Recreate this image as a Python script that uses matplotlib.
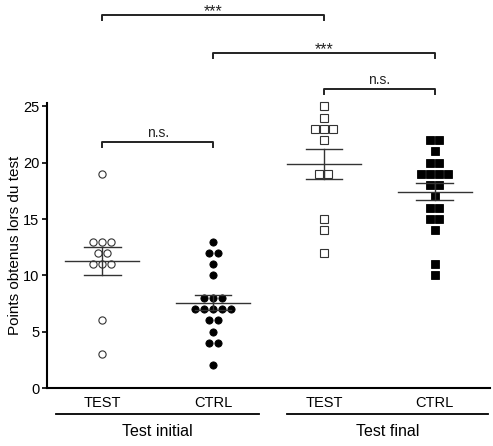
import numpy as np
import matplotlib.pyplot as plt
from matplotlib.transforms import blended_transform_factory

plt.rcParams['font.family'] = ['Liberation Sans', 'DejaVu Sans']

# scores
test_initial = [19, 13, 13, 13, 12, 12, 11, 11, 11, 6, 3]
ctrl_initial = [13, 12, 12, 11, 10, 8, 8, 8, 7, 7, 7, 7, 7, 6, 6, 5, 4, 4, 2]
test_final = [25, 24, 23, 23, 23, 22, 19, 19, 15, 14, 12]
ctrl_final = [22, 22, 21, 20, 20, 19, 19, 19, 19, 18, 18, 17, 16, 16,
              15, 15, 14, 11, 10]

groups = [test_initial, ctrl_initial, test_final, ctrl_final]
tick_labels = ['TEST', 'CTRL', 'TEST', 'CTRL']
group_names = ['Test initial', 'Test final']
markers = ['o', 'o', 's', 's']
filled = [False, True, False, True]

# significance: (group a, group b, label)
comparisons = [(1, 3, '***'), (2, 4, '***'), (3, 4, 'n.s.'), (1, 2, 'n.s.')]
bracket_y = [33.07, 29.7, 26.5, 21.8]


def swarm_offsets(values, dx=0.081):
    # spread equal values side by side
    vals = np.array(values)
    offs = np.zeros(len(vals))
    for v in np.unique(vals):
        idx = np.where(vals == v)[0]
        n = len(idx)
        offs[idx] = (np.arange(n) - (n - 1) / 2) * dx
    return offs


fig = plt.figure(figsize=(4.93, 4.46), dpi=100)
ax = fig.add_axes([47 / 493, 58 / 446, 443 / 493, 285 / 446])

for i, vals in enumerate(groups):
    pos = i + 1
    xs = pos + swarm_offsets(vals)
    if markers[i] == 'o':
        ms = 5.2
    else:
        ms = 5.6
    if filled[i]:
        ax.plot(xs, vals, markers[i], ms=ms, mfc='black', mec='black',
                mew=0.6, ls='none', zorder=3, clip_on=False)
    else:
        ax.plot(xs, vals, markers[i], ms=ms, mfc='white', mec='#333333',
                mew=0.8, ls='none', zorder=3, clip_on=False)
    m = np.mean(vals)
    sem = np.std(vals, ddof=1) / np.sqrt(len(vals))
    ax.plot([pos - 0.335, pos + 0.335], [m, m], color='#333333', lw=1.0,
            zorder=4)
    ax.plot([pos - 0.165, pos + 0.165], [m + sem, m + sem], color='#333333',
            lw=1.0, zorder=4)
    ax.plot([pos - 0.165, pos + 0.165], [m - sem, m - sem], color='#333333',
            lw=1.0, zorder=4)
    ax.plot([pos, pos], [m - sem, m + sem], color='#333333', lw=1.0,
            zorder=4)

# brackets
for (a, b, lab), y in zip(comparisons, bracket_y):
    ax.plot([a, a, b, b], [y - 0.38, y, y, y - 0.38], color='#222222',
            lw=1.4, clip_on=False)
    if lab == '***':
        ax.text((a + b) / 2, y - 0.3, lab, ha='center', va='bottom',
                fontsize=11.5, color='#222222', clip_on=False)
    else:
        ax.text((a + b) / 2, y + 0.2, lab, ha='center', va='bottom',
                fontsize=10, color='#222222', clip_on=False)

ax.set_xlim(0.5, 4.5)
ax.set_ylim(0, 25.3)
ax.set_yticks([0, 5, 10, 15, 20, 25])
ax.set_xticks([1, 2, 3, 4])
ax.set_xticklabels(tick_labels, fontsize=10.5)
ax.tick_params(axis='x', length=0, pad=6)
ax.tick_params(axis='y', length=3.5, width=1.2, labelsize=10.5, pad=2)
ax.spines['top'].set_visible(False)
ax.spines['right'].set_visible(False)
ax.spines['left'].set_linewidth(1.5)
ax.spines['bottom'].set_linewidth(1.5)
ax.set_ylabel('Points obtenus lors du test', fontsize=11, labelpad=1)

# group lines under the tick labels
trans = blended_transform_factory(ax.transData, ax.transAxes)
for (x0, x1), name in zip([(0.584, 2.41), (2.666, 4.48)], group_names):
    ax.plot([x0, x1], [-0.091, -0.091], color='black', lw=1.3,
            transform=trans, clip_on=False)
    ax.text((x0 + x1) / 2, -0.151, name, ha='center', va='center',
            fontsize=11.5, transform=trans)

fig.savefig('out.png', dpi=100)
